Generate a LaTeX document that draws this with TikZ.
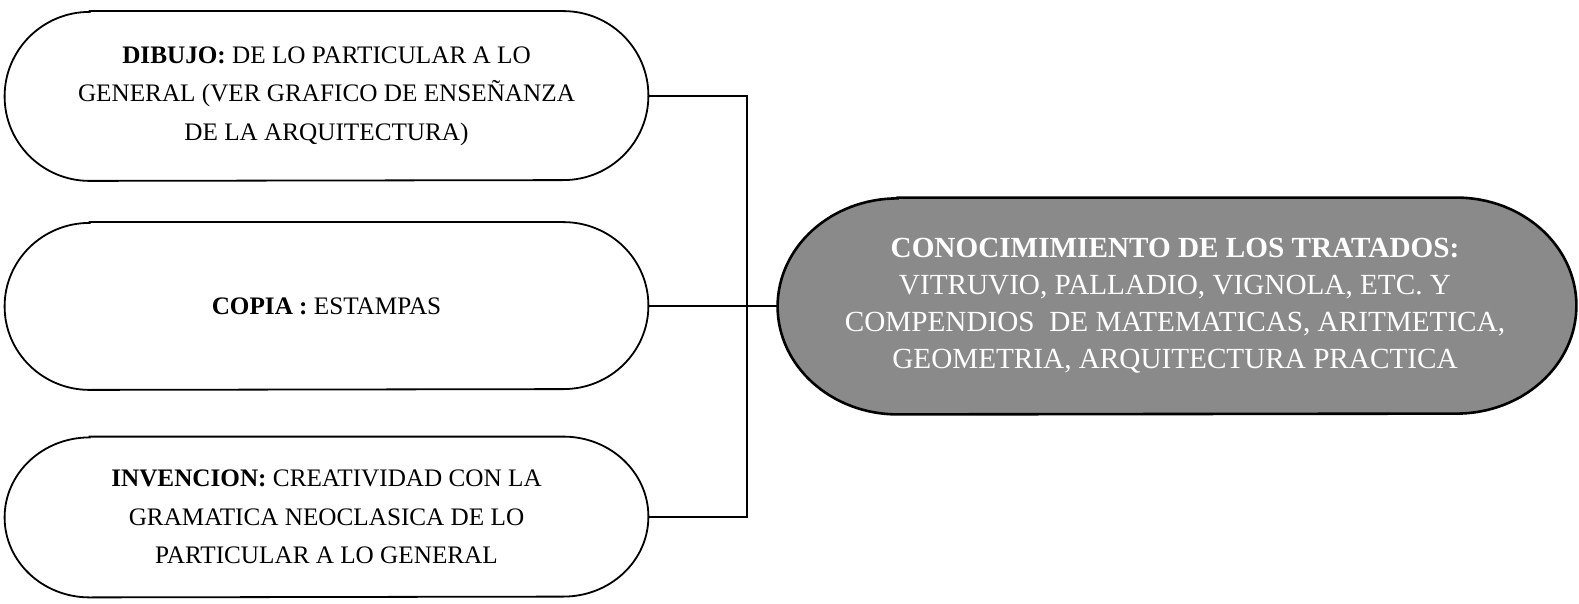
\documentclass[tikz,border=0pt]{standalone}
\usepackage{fontspec}
\setmainfont{Liberation Serif}
\usetikzlibrary{calc}
\definecolor{treatgray}{gray}{0.54}
\tikzset{
  leftbox/.style={inner sep=0pt, align=center, font=\fontsize{12.6}{19.3}\selectfont},
  rightbox/.style={inner sep=0pt, align=center, text=white, font=\fontsize{14.6}{18.5}\selectfont},
  outline/.style={draw=black, line width=0.9pt},
  conn/.style={draw=black, line width=0.8pt},
}
\begin{document}
\begin{tikzpicture}[x=0.5pt, y=-0.5pt]
\useasboundingbox (0,0) rectangle (1579,604);

% left boxes
\node[leftbox, minimum width=321.5pt, minimum height=84.5pt] (b1) at (326.5,96)
  {\textbf{DIBUJO:} DE LO PARTICULAR A LO\\GENERAL (VER GRAFICO DE ENSEÑANZA\\DE LA ARQUITECTURA)};
\node[leftbox, minimum width=321.5pt, minimum height=83.5pt] (b2) at (326.5,306)
  {\textbf{COPIA :} ESTAMPAS};
\node[leftbox, minimum width=321.5pt, minimum height=80pt] (b3) at (326.5,517)
  {\textbf{INVENCION:} CREATIVIDAD CON LA\\GRAMATICA NEOCLASICA DE LO\\PARTICULAR A LO GENERAL};

\draw[outline] ($(b1.north west)+(85,0)$) -- ($(b1.north east)+(-85,0)$)
  arc[start angle=270, end angle=450, x radius=85, y radius=84.5]
  -- ($(b1.south west)+(85,0)$)
  arc[start angle=90, end angle=270, x radius=85, y radius=84.5] -- cycle;
\draw[outline] ($(b2.north west)+(85,0)$) -- ($(b2.north east)+(-85,0)$)
  arc[start angle=270, end angle=450, x radius=85, y radius=83.5]
  -- ($(b2.south west)+(85,0)$)
  arc[start angle=90, end angle=270, x radius=85, y radius=83.5] -- cycle;
\draw[outline] ($(b3.north west)+(85,0)$) -- ($(b3.north east)+(-85,0)$)
  arc[start angle=270, end angle=450, x radius=85, y radius=80]
  -- ($(b3.south west)+(85,0)$)
  arc[start angle=90, end angle=270, x radius=85, y radius=80] -- cycle;

% right box
\node[minimum width=399pt, minimum height=108pt, inner sep=0pt] (r) at (1177,306) {};
\draw[outline, line width=1.3pt, fill=treatgray] ($(r.north west)+(120,0)$) -- ($(r.north east)+(-120,0)$)
  arc[start angle=270, end angle=450, x radius=120, y radius=108]
  -- ($(r.south west)+(120,0)$)
  arc[start angle=90, end angle=270, x radius=120, y radius=108] -- cycle;
\node[rightbox] (rt) at (1175,306)
  {\textbf{CONOCIMIMIENTO DE LOS TRATADOS:}\\VITRUVIO, PALLADIO, VIGNOLA, ETC. Y\\COMPENDIOS\ \ DE MATEMATICAS, ARITMETICA,\\GEOMETRIA, ARQUITECTURA PRACTICA};

% connectors
\coordinate (j) at (747,306);
\draw[conn] (b1.east) -| (j) |- (b3.east);
\draw[conn] (b2.east) -- (r.west);
\end{tikzpicture}
\end{document}
